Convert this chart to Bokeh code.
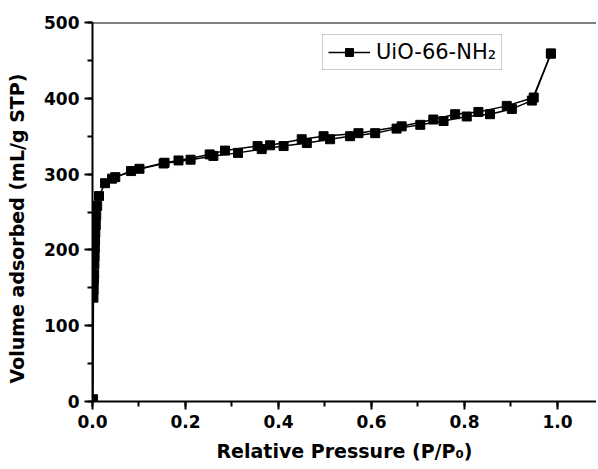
from bokeh.plotting import figure
from bokeh.models import Range1d, Legend, LegendItem, Span, SingleIntervalTicker, PrintfTickFormatter
from bokeh.embed import file_html
from bokeh.resources import INLINE

# Adsorption branch
ads_x = [0.001, 0.002, 0.0025, 0.003, 0.0035, 0.004, 0.0045, 0.005, 0.0055, 0.006, 0.007, 0.008, 0.01,
         0.014, 0.027, 0.042, 0.083, 0.153, 0.211, 0.26, 0.313, 0.364, 0.411, 0.461, 0.511,
         0.554, 0.608, 0.654, 0.705, 0.755, 0.805, 0.855, 0.902, 0.945, 0.986]
ads_y = [3, 137, 148, 160, 168, 181, 192, 203, 213, 223, 233, 245, 258,
         271, 288, 294, 304, 314, 319, 324, 328, 333, 337, 341, 346,
         350, 354, 360, 365, 370, 376, 379, 386, 397, 459]

# Desorption branch
des_x = [0.986, 0.949, 0.891, 0.83, 0.78, 0.733, 0.665, 0.572, 0.497, 0.45, 0.382, 0.355,
         0.285, 0.252, 0.185, 0.155, 0.101, 0.049]
des_y = [459, 401, 390, 382, 379, 372, 363, 354, 350, 346, 338, 337,
         331, 326, 318, 315, 307, 296]

series_label = "UiO-66-NH₂"
x_title = "Relative Pressure (P/P₀)"
y_title = "Volume adsorbed (mL/g STP)"

p = figure(width=596, height=465,
           x_range=Range1d(0, 1.084), y_range=Range1d(0, 500),
           output_backend="svg", toolbar_location=None,
           min_border_left=92, min_border_right=0, min_border_top=22, min_border_bottom=64)
p.outline_line_color = None
p.grid.visible = False
p.background_fill_color = "white"
p.border_fill_color = "white"

FONT = "DejaVu Sans"
p.xaxis.ticker = SingleIntervalTicker(interval=0.2, num_minor_ticks=2)
p.yaxis.ticker = SingleIntervalTicker(interval=100, num_minor_ticks=2)
p.xaxis.formatter = PrintfTickFormatter(format="%.1f")
for ax in (p.xaxis, p.yaxis):
    ax.axis_line_width = 2
    ax.axis_line_color = "black"
    ax.major_tick_line_width = 2
    ax.minor_tick_line_width = 2
    ax.major_tick_line_color = "black"
    ax.minor_tick_line_color = "black"
    ax.major_tick_out = 8
    ax.major_tick_in = 0
    ax.minor_tick_out = 5
    ax.minor_tick_in = 0
    ax.major_label_text_font = FONT
    ax.major_label_text_font_style = "bold"
    ax.major_label_text_font_size = "17px"
    ax.major_label_text_color = "black"
    ax.axis_label_text_font = FONT
    ax.axis_label_text_font_style = "bold"
    ax.axis_label_text_font_size = "19px"
    ax.axis_label_text_color = "black"
    ax.major_label_standoff = 5
p.xaxis.axis_label = x_title
p.yaxis.axis_label = y_title + "\u00a0" * 5
p.xaxis.axis_label_standoff = 9
p.yaxis.axis_label_standoff = 13

p.add_layout(Span(location=500, dimension="width", line_color="black", line_width=2))

la = p.line(ads_x, ads_y, line_color="black", line_width=1.5)
sa = p.scatter(ads_x, ads_y, marker="square", size=9, color="black")
ld = p.line(des_x, des_y, line_color="black", line_width=1.5)
sd = p.scatter(des_x, des_y, marker="square", size=9, color="black")

legend = Legend(items=[LegendItem(label=series_label, renderers=[la, sa])],
                location=(230, 331))
legend.label_text_font = FONT
legend.label_text_font_size = "21px"
legend.label_text_color = "black"
legend.border_line_color = "#999999"
legend.border_line_width = 1
legend.padding = 5
legend.margin = 0
legend.glyph_width = 42
legend.glyph_height = 20
legend.label_standoff = 6
legend.spacing = 0
p.add_layout(legend)

open("out.html", "w").write(file_html(p, INLINE))
